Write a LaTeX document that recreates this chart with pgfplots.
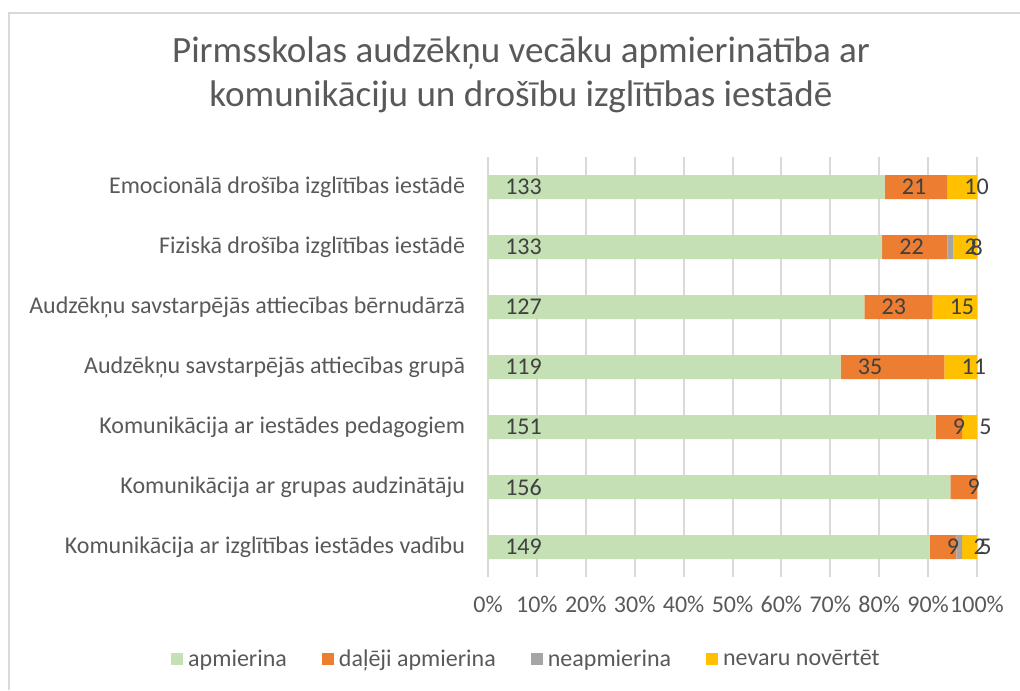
\documentclass[border=0pt]{standalone}
\usepackage{pgfplots}
\pgfplotsset{compat=1.18}
\usepackage{pgfplotstable}
\usepackage{fontspec}
\setmainfont{Carlito}
\definecolor{cgreen}{HTML}{C5E0B4}
\definecolor{corange}{HTML}{ED7D31}
\definecolor{cgray}{HTML}{A5A5A5}
\definecolor{cyellow}{HTML}{FFC000}
\definecolor{txt}{HTML}{595959}
\definecolor{lbl}{HTML}{404040}
\definecolor{gridc}{HTML}{D9D9D9}

\pgfplotstableread{
cat a b c d total
0 133 21 0 10 164
1 133 22 2 8 165
2 127 23 0 15 165
3 119 35 0 11 165
4 151 9 0 5 165
5 156 9 0 0 165
6 149 9 2 5 165
}\datatable

\pgfkeys{/pgf/number format/assume math mode=true}
\pgfplotsset{
  common/.style={
    at={(366pt,84.75pt)}, anchor=south west,
    width=366.75pt, height=315pt, scale only axis,
    xmin=0, xmax=100, ymin=-0.5, ymax=6.5, y dir=reverse,
  },
  lab/.style={draw=none, mark=none, point meta=explicit, nodes near coords,
    every node near coord/.append style={lbl, font=\fontsize{18}{20}\selectfont, inner sep=0pt, anchor=west, xshift=12.75pt}},
}

\begin{document}
\begin{tikzpicture}[x=0.75pt,y=0.75pt]
\path[use as bounding box] (0,0) rectangle (1020,690);
\draw[gridc, line width=1.5pt] (9,0) -- (9,677) -- (1020,677);
\node[txt, anchor=base, font=\fontsize{27.8}{30}\selectfont, inner sep=0pt] at (521,627) {Pirmsskolas audzēkņu vecāku apmierinātība ar};
\node[txt, anchor=base, font=\fontsize{27.8}{30}\selectfont, inner sep=0pt] at (521,583) {komunikāciju un drošību izglītības iestādē};
\begin{axis}[
  common,
  xbar stacked, bar width=18pt,
  axis line style={draw=none},
  tick style={draw=none},
  xmajorgrids, major grid style={gridc, line width=1.5pt},
  xtick={0,10,...,100},
  xticklabels={0\%,10\%,20\%,30\%,40\%,50\%,60\%,70\%,80\%,90\%,100\%},
  xticklabel style={txt, font=\fontsize{18}{20}\selectfont, inner sep=0pt, anchor=north, yshift=-14pt},
  ytick={0,...,6},
  yticklabels={Emocionālā drošība izglītības iestādē, Fiziskā drošība izglītības iestādē, Audzēkņu savstarpējās attiecības bērnudārzā, Audzēkņu savstarpējās attiecības grupā, Komunikācija ar iestādes pedagogiem, Komunikācija ar grupas audzinātāju, Komunikācija ar izglītības iestādes vadību},
  yticklabel style={txt, font=\fontsize{18}{20}\selectfont, inner sep=0pt, anchor=east, xshift=-17pt},
  legend columns=-1,
  legend style={at={(0.079,-0.195)}, anchor=center, draw=none, fill=none, font=\fontsize{18}{20}\selectfont, text=txt,
    /tikz/every even column/.append style={column sep=24pt}},
  legend image code/.code={\fill[#1] (0pt,-4.5pt) rectangle (9pt,4.5pt); \path (0pt,0pt) -- (11pt,0pt);},
]
\addplot[fill=cgreen, draw=none] table[x expr=100*\thisrow{a}/\thisrow{total}, y=cat] {\datatable};
\addplot[fill=corange, draw=none] table[x expr=100*\thisrow{b}/\thisrow{total}, y=cat] {\datatable};
\addplot[fill=cgray, draw=none] table[x expr=100*\thisrow{c}/\thisrow{total}, y=cat] {\datatable};
\addplot[fill=cyellow, draw=none] table[x expr=100*\thisrow{d}/\thisrow{total}, y=cat] {\datatable};
\legend{apmierina, daļēji apmierina, neapmierina, nevaru novērtēt}
\end{axis}
\begin{axis}[common, hide axis, clip=false]
\addplot[lab, x filter/.expression={\thisrow{a}==0 ? nan : x}] table[x expr=0, y=cat, meta=a] {\datatable};
\addplot[lab, x filter/.expression={\thisrow{b}==0 ? nan : x}] table[x expr=100*\thisrow{a}/\thisrow{total}, y=cat, meta=b] {\datatable};
\addplot[lab, x filter/.expression={\thisrow{c}==0 ? nan : x}] table[x expr=100*(\thisrow{a}+\thisrow{b})/\thisrow{total}, y=cat, meta=c] {\datatable};
\addplot[lab, x filter/.expression={\thisrow{d}==0 ? nan : x}] table[x expr=100*(\thisrow{a}+\thisrow{b}+\thisrow{c})/\thisrow{total}, y=cat, meta=d] {\datatable};
\end{axis}
\end{tikzpicture}
\end{document}
